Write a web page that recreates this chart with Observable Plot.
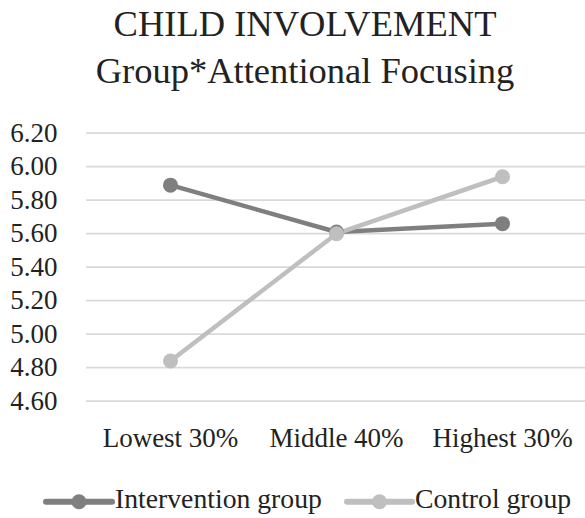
<!DOCTYPE html>
<html>
<head>
<meta charset="utf-8">
<script src="https://cdn.jsdelivr.net/npm/d3@7"></script>
<script src="https://cdn.jsdelivr.net/npm/@observablehq/plot@0.6"></script>
<style>
  html, body { margin: 0; padding: 0; background: #fff; }
  #wrap { width: 585px; height: 518px; position: relative; overflow: hidden; font-family: "Liberation Serif", "Times New Roman", serif; color: #222; }
  #title { box-sizing: border-box; width: 585px; height: 100px; padding-left: 25px; text-align: center; font-size: 36.5px; line-height: 47px; white-space: nowrap; }
  svg { display: block; }
  #chart svg text, #legend svg text { font-family: "Liberation Serif", "Times New Roman", serif !important; }
</style>
</head>
<body>
<div id="wrap">
  <div id="title"><div>CHILD INVOLVEMENT</div><div>Group*Attentional Focusing</div></div>
  <div id="chart"></div>
  <div id="legend"></div>
</div>
<script>
const categories = ["Lowest 30%", "Middle 40%", "Highest 30%"];
const seriesNames = ["Intervention group", "Control group"];
const interventionValues = [5.89, 5.61, 5.66];
const controlValues = [4.84, 5.60, 5.94];
const yTicks = [4.6, 4.8, 5.0, 5.2, 5.4, 5.6, 5.8, 6.0, 6.2];
const seriesColors = ["#7f7f7f", "#bfbfbf"];

const rows = [];
categories.forEach((c, i) => rows.push({cat: c, value: interventionValues[i], series: seriesNames[0]}));
categories.forEach((c, i) => rows.push({cat: c, value: controlValues[i], series: seriesNames[1]}));

const font = '"Liberation Serif", "Times New Roman", serif';

const chart = Plot.plot({
  width: 585,
  height: 370,
  marginTop: 32.7,
  marginBottom: 69.3,
  marginLeft: 86,
  marginRight: 0,
  style: {fontFamily: font, fontSize: "27px", color: "#222", background: "white"},
  x: {type: "point", domain: categories, padding: 0.5, label: null},
  y: {domain: [4.6, 6.2], label: null},
  color: {domain: seriesNames, range: seriesColors},
  marks: [
    Plot.ruleY(yTicks, {stroke: "#d9d9d9", strokeWidth: 1.8}),
    Plot.axisY({ticks: yTicks, tickFormat: d3.format(".2f"), tickSize: 0, tickPadding: 29, label: null, fill: "#222"}),
    Plot.axisX({tickSize: 0, tickPadding: 27, label: null, fill: "#222"}),
    Plot.line(rows, {x: "cat", y: "value", z: "series", stroke: "series", strokeWidth: 4.5}),
    Plot.dot(rows, {x: "cat", y: "value", fill: "series", r: 7.5, stroke: "none"})
  ]
});
document.getElementById("chart").appendChild(chart);

// Legend
const legendSvg = d3.select("#legend").append("svg").attr("width", 585).attr("height", 48);
const legendItems = [
  {name: seriesNames[0], color: seriesColors[0], x0: 46, x1: 112},
  {name: seriesNames[1], color: seriesColors[1], x0: 347, x1: 412}
];
legendItems.forEach(it => {
  const g = legendSvg.append("g");
  g.append("line").attr("x1", it.x0).attr("x2", it.x1).attr("y1", 31.7).attr("y2", 31.7)
    .attr("stroke", it.color).attr("stroke-width", 6).attr("stroke-linecap", "round");
  g.append("circle").attr("cx", (it.x0 + it.x1) / 2).attr("cy", 31.7).attr("r", 7.5).attr("fill", it.color);
  g.append("text").attr("x", it.x1 + 3).attr("y", 38).attr("font-size", "27.7px")
    .attr("fill", "#222").text(it.name);
});
</script>
</body>
</html>
